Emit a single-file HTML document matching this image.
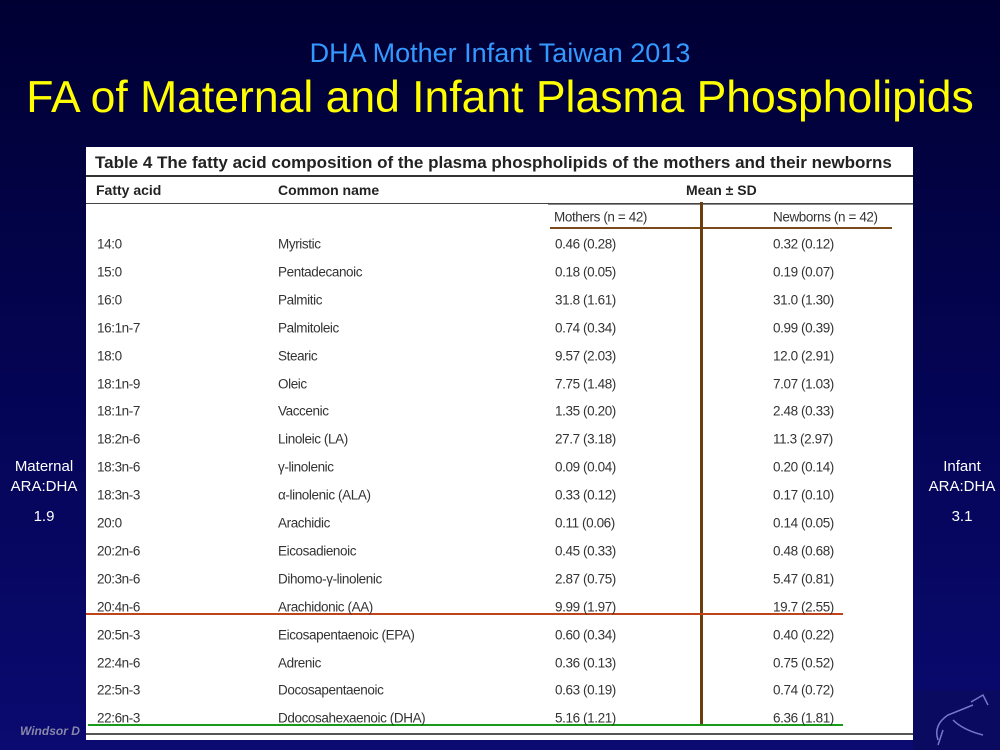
<!DOCTYPE html>
<html><head><meta charset="utf-8"><style>
body{margin:0;width:1000px;height:750px;overflow:hidden;background:linear-gradient(#000033 0%,#05055a 60%,#0a0a70 100%);font-family:"Liberation Sans",sans-serif;position:relative}
.a{position:absolute;white-space:nowrap}
#tbl{position:absolute;left:86px;top:147px;width:827px;height:593px;background:#fff;font-family:"Liberation Sans",sans-serif;color:#333}
#tbl .c{position:absolute;font-size:13.5px;letter-spacing:-0.4px;transform:translateY(-50%)}
.side{color:#fff;font-size:15px;text-align:center;line-height:20px}
</style></head><body>
<div class="a" style="left:0;width:1000px;text-align:center;top:38px;font-size:27px;color:#3399ff">DHA Mother Infant Taiwan 2013</div>
<div class="a" style="left:0;width:1000px;text-align:center;top:73px;font-size:44.5px;color:#ffff00">FA of Maternal and Infant Plasma Phospholipids</div>
<div class="a side" style="left:4px;width:80px;top:457px">Maternal<br>ARA:DHA<br><div style="margin-top:10px">1.9</div></div>
<div class="a side" style="left:920px;width:84px;top:457px">Infant<br>ARA:DHA<br><div style="margin-top:10px">3.1</div></div>
<div class="a" style="left:20px;top:724px;font-size:12px;font-style:italic;font-weight:bold;color:#8888aa">Windsor D</div>
<svg class="a" style="left:913px;top:690px" width="87" height="60"><rect width="87" height="60" fill="#0a0a60"/><path d="M25 50 Q20 35 35 25 L60 15 M40 30 Q50 40 70 45 M58 12 L70 5 L75 15 M30 40 L25 55" stroke="#7777cc" fill="none" stroke-width="1.5"/></svg>
<div id="tbl">
<div class="a" style="left:9px;top:6px;font-size:17px;font-weight:bold;color:#222">Table 4 The fatty acid composition of the plasma phospholipids of the mothers and their newborns</div>
<div class="a" style="left:0;top:28px;width:827px;height:2px;background:#333"></div>
<div class="a" style="left:10px;top:35px;font-size:14px;font-weight:bold;color:#222">Fatty acid</div>
<div class="a" style="left:192px;top:35px;font-size:14px;font-weight:bold;color:#222">Common name</div>
<div class="a" style="left:600px;top:35px;font-size:14px;font-weight:bold;color:#222">Mean ± SD</div>
<div class="a" style="left:0;top:56px;width:827px;height:1px;background:#444"></div>
<div class="a" style="left:462px;top:57px;width:365px;height:1px;background:#888"></div>
<div class="c" style="left:468px;top:70px">Mothers (n = 42)</div>
<div class="c" style="left:687px;top:70px">Newborns (n = 42)</div>
<div class="a" style="left:464px;top:80px;width:342px;height:2px;background:#7a4a1a"></div>
<div class="a" style="left:614px;top:55px;width:3px;height:524px;background:#6b3e10"></div>
<div class="a" style="left:0;top:466px;width:757px;height:2px;background:#c0441a"></div>
<div class="a" style="left:2px;top:577px;width:755px;height:2px;background:#1a9a1a"></div>
<div class="a" style="left:0;top:586px;width:827px;height:2px;background:#555"></div>
<div id="rows"></div>
</div>
<script>
const acids=["14:0","15:0","16:0","16:1n-7","18:0","18:1n-9","18:1n-7","18:2n-6","18:3n-6","18:3n-3","20:0","20:2n-6","20:3n-6","20:4n-6","20:5n-3","22:4n-6","22:5n-3","22:6n-3"];
const names=["Myristic","Pentadecanoic","Palmitic","Palmitoleic","Stearic","Oleic","Vaccenic","Linoleic (LA)","γ-linolenic","α-linolenic (ALA)","Arachidic","Eicosadienoic","Dihomo-γ-linolenic","Arachidonic (AA)","Eicosapentaenoic (EPA)","Adrenic","Docosapentaenoic","Ddocosahexaenoic (DHA)"];
const mothers=["0.46 (0.28)","0.18 (0.05)","31.8 (1.61)","0.74 (0.34)","9.57 (2.03)","7.75 (1.48)","1.35 (0.20)","27.7 (3.18)","0.09 (0.04)","0.33 (0.12)","0.11 (0.06)","0.45 (0.33)","2.87 (0.75)","9.99 (1.97)","0.60 (0.34)","0.36 (0.13)","0.63 (0.19)","5.16 (1.21)"];
const newborns=["0.32 (0.12)","0.19 (0.07)","31.0 (1.30)","0.99 (0.39)","12.0 (2.91)","7.07 (1.03)","2.48 (0.33)","11.3 (2.97)","0.20 (0.14)","0.17 (0.10)","0.14 (0.05)","0.48 (0.68)","5.47 (0.81)","19.7 (2.55)","0.40 (0.22)","0.75 (0.52)","0.74 (0.72)","6.36 (1.81)"];
const rows=document.getElementById('rows');
const cols=[[acids,11],[names,192],[mothers,469],[newborns,687]];
acids.forEach((a,i)=>{
  const y=97+i*27.9;
  cols.forEach(([arr,x],j)=>{
    const d=document.createElement('div');
    d.className='c';
    
    
    d.style.left=x+'px';d.style.top=y+'px';
    d.textContent=arr[i];
    rows.appendChild(d);
  });
});
</script>
</body></html>
